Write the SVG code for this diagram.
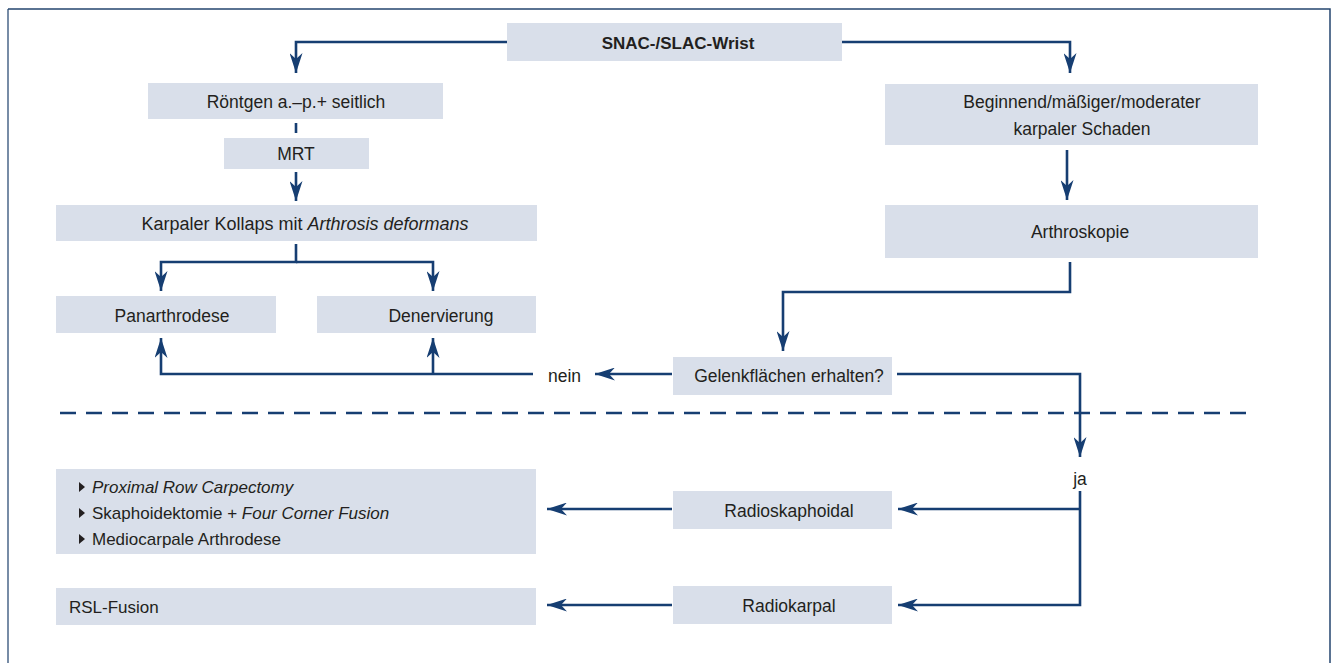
<svg xmlns="http://www.w3.org/2000/svg" width="1332" height="663" viewBox="0 0 1332 663">
<defs>
<style>
.box{fill:#d9dfea}
.t{font-family:"Liberation Sans",Arial,sans-serif;font-size:17.5px;fill:#231f20}
.c{text-anchor:middle}
.b{font-weight:bold;font-size:17px}
.i{font-style:italic}
.l{font-size:17px}
.ln{fill:none;stroke:#163e72;stroke-width:2.6}
.dash{fill:none;stroke:#163e72;stroke-width:2.6;stroke-dasharray:16 10}
.bul{fill:#231f20}
</style>
<marker id="ah" viewBox="0 0 20 13" markerWidth="20" markerHeight="13" refX="20" refY="6.5" orient="auto" markerUnits="userSpaceOnUse">
<path d="M0,0 L20,6.5 L0,13 L6,6.5 z" fill="#163e72"/>
</marker>
</defs>
<rect x="0" y="0" width="1332" height="663" fill="#ffffff"/>
<path d="M8,663 V9" fill="none" stroke="#4a6688" stroke-width="1.5"/>
<path d="M8,9 H1330 V663" fill="none" stroke="#24456f" stroke-width="1.5"/>

<g id="connectors">
<path class="ln" d="M507,42 H296 V73" marker-end="url(#ah)"/>
<path class="ln" d="M842,42 H1070 V73" marker-end="url(#ah)"/>
<path class="ln" d="M296,123 V133"/>
<path class="ln" d="M296,172 V201" marker-end="url(#ah)"/>
<path class="ln" d="M296,244 V262 H161 V291" marker-end="url(#ah)"/>
<path class="ln" d="M296,262 H433 V291" marker-end="url(#ah)"/>
<path class="ln" d="M1067,150 V200" marker-end="url(#ah)"/>
<path class="ln" d="M1070,262 V292 H783 V351" marker-end="url(#ah)"/>
<path class="ln" d="M672,374 H595" marker-end="url(#ah)"/>
<path class="ln" d="M533,374 H161 V338" marker-end="url(#ah)"/>
<path class="ln" d="M433,374 V338" marker-end="url(#ah)"/>
<path class="ln" d="M897,374 H1080 V457" marker-end="url(#ah)"/>
<path class="ln" d="M1080,491 V605 H898" marker-end="url(#ah)"/>
<path class="ln" d="M1080,509 H898" marker-end="url(#ah)"/>
<path class="ln" d="M672,509 H547" marker-end="url(#ah)"/>
<path class="ln" d="M672,605 H547" marker-end="url(#ah)"/>
<path class="dash" d="M60,413 H1253"/>
</g>

<g id="snac"><rect class="box" x="507" y="23" width="335" height="38"/><text class="t c b" x="678" y="49">SNAC-/SLAC-Wrist</text></g>
<g id="roentgen"><rect class="box" x="148" y="83" width="295" height="36"/><text class="t c" x="296" y="108">Röntgen a.–p.+ seitlich</text></g>
<g id="mrt"><rect class="box" x="224" y="138" width="145" height="31"/><text class="t c" x="296" y="160">MRT</text></g>
<g id="kollaps"><rect class="box" x="56" y="205" width="481" height="36"/><text class="t c" x="305" y="230" style="font-size:18px">Karpaler Kollaps mit <tspan class="i">Arthrosis deformans</tspan></text></g>
<g id="panarthrodese"><rect class="box" x="56" y="296" width="220" height="37"/><text class="t c" x="172" y="322">Panarthrodese</text></g>
<g id="denervierung"><rect class="box" x="317" y="296" width="219" height="37"/><text class="t c" x="441" y="322">Denervierung</text></g>
<g id="beginnend"><rect class="box" x="885" y="84" width="373" height="61"/><text class="t c" x="1082" y="108">Beginnend/mäßiger/moderater</text><text class="t c" x="1082" y="135">karpaler Schaden</text></g>
<g id="arthroskopie"><rect class="box" x="885" y="205" width="373" height="53"/><text class="t c" x="1080" y="238">Arthroskopie</text></g>
<g id="gelenk"><rect class="box" x="673" y="357" width="219" height="38"/><text class="t c" x="789" y="382">Gelenkflächen erhalten?</text></g>
<g id="nein"><text class="t" x="548" y="382">nein</text></g>
<g id="ja"><text class="t c" x="1080" y="485">ja</text></g>
<g id="radioskaphoidal"><rect class="box" x="673" y="491" width="219" height="38"/><text class="t c" x="789" y="517">Radioskaphoidal</text></g>
<g id="radiokarpal"><rect class="box" x="673" y="586" width="219" height="38"/><text class="t c" x="789" y="612">Radiokarpal</text></g>
<g id="optionen"><rect class="box" x="56" y="469" width="480" height="85"/>
<path class="bul" d="M79,482 L85,487 L79,492 z"/>
<path class="bul" d="M79,508 L85,513 L79,518 z"/>
<path class="bul" d="M79,534 L85,539 L79,544 z"/>
<text class="t l i" x="92" y="493">Proximal Row Carpectomy</text>
<text class="t l" x="92" y="519">Skaphoidektomie + <tspan class="i">Four Corner Fusion</tspan></text>
<text class="t l" x="92" y="545">Mediocarpale Arthrodese</text>
</g>
<g id="rsl"><rect class="box" x="56" y="588" width="480" height="37"/><text class="t l" x="69" y="613">RSL-Fusion</text></g>
</svg>
